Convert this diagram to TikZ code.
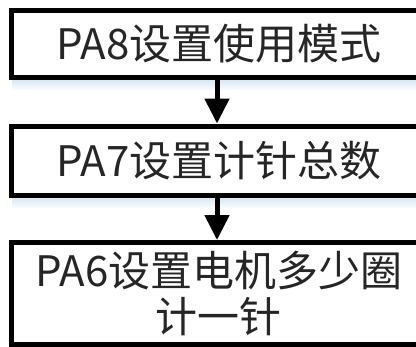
\documentclass[tikz,border=0pt]{standalone}
\usepackage{fontspec}
\newfontfamily\cjk{Noto Sans CJK SC}
\usetikzlibrary{arrows.meta}
\definecolor{shadowblue}{RGB}{212,227,241}
\definecolor{txt}{RGB}{38,38,38}
\tikzset{
  stepbox/.style={draw=black, line width=5bp, fill=white, inner sep=0pt,
    minimum width=414bp, align=center, text=txt,
    font=\cjk\fontsize{42bp}{46bp}\selectfont},
  flowarrow/.style={line width=5bp, -{Triangle[width=24bp,length=25bp]}},
  glow/.style={top color=shadowblue, bottom color=white, draw=none}
}
\begin{document}
\begin{tikzpicture}[x=1bp,y=-1bp]
\clip (0,0) rectangle (416,347);
\fill[white] (0,0) rectangle (416,347);
% shadows
\shade[glow] (12,78) rectangle (426,91);
\shade[glow] (12,196) rectangle (426,209);
% boxes
\node[stepbox, minimum height=67bp] (b1) at (219,43.5) {PA8设置使用模式};
\node[stepbox, minimum height=69.5bp] (b2) at (219,160.75) {PA7设置计针总数};
\node[stepbox, minimum height=101.5bp] (b3) at (219,293.25) {PA6设置电机多少圈\\计一针};
% arrows
\draw[flowarrow] (b1.south -| 217,0) -- (b2.north -| 217,0);
\draw[flowarrow] (b2.south -| 217,0) -- (b3.north -| 217,0);
\end{tikzpicture}
\end{document}
